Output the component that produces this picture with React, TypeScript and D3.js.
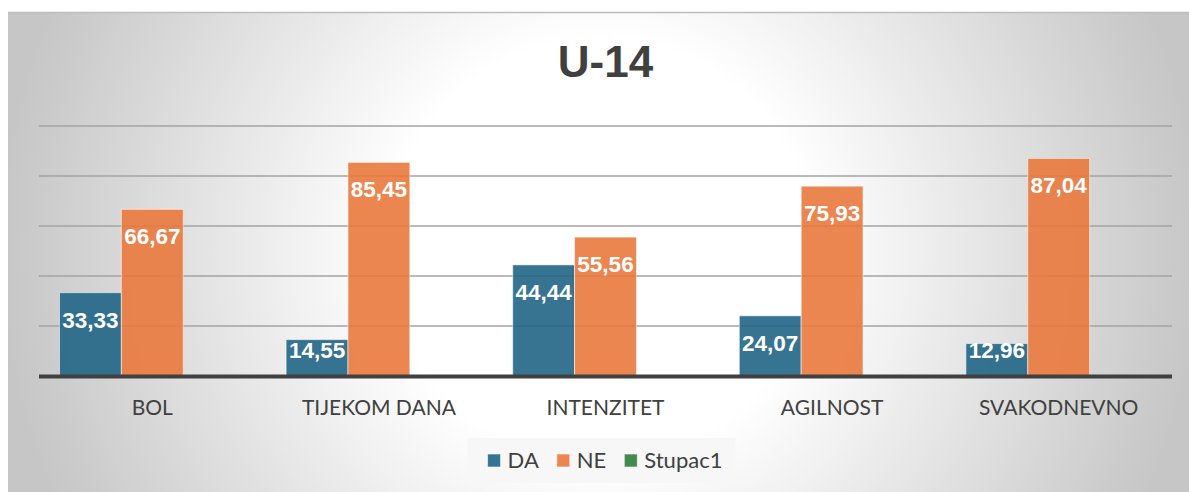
import React, { useEffect, useRef } from 'react';
import * as d3 from 'd3';

const categories = ['BOL', 'TIJEKOM DANA', 'INTENZITET', 'AGILNOST', 'SVAKODNEVNO'];
const seriesNames = ['DA', 'NE', 'Stupac1'];
const daValues = [33.33, 14.55, 44.44, 24.07, 12.96];
const neValues = [66.67, 85.45, 55.56, 75.93, 87.04];
const stupacValues: (number | null)[] = [null, null, null, null, null];
const yTicks = [20, 40, 60, 80, 100];

const colors: Record<string, string> = { DA: '#206586', NE: '#e9793e', Stupac1: '#2f7d3b' };

const fmt = (v: number) => v.toFixed(2).replace('.', ',');

const App: React.FC = () => {
  const svgRef = useRef<SVGSVGElement>(null);

  useEffect(() => {
    if (!svgRef.current) return;
    const svg = d3.select(svgRef.current);
    svg.selectAll('*').remove();

    const width = 1189;
    const height = 492;

    // Background gradient
    const defs = svg.append('defs');
    const grad = defs
      .append('radialGradient')
      .attr('id', 'bg-grad')
      .attr('gradientUnits', 'userSpaceOnUse')
      .attr('cx', 600)
      .attr('cy', 250)
      .attr('r', 600);
    grad.append('stop').attr('offset', '0%').attr('stop-color', '#ffffff');
    grad.append('stop').attr('offset', '35%').attr('stop-color', '#ffffff');
    grad.append('stop').attr('offset', '100%').attr('stop-color', '#c6c6c6');

    svg.append('rect').attr('x', 8).attr('y', 12).attr('width', width).attr('height', height).attr('fill', 'url(#bg-grad)');
    svg.append('line').attr('x1', 8).attr('x2', width).attr('y1', 12.5).attr('y2', 12.5).attr('stroke', '#bdbdbd').attr('stroke-width', 1.5);

    // Title
    svg
      .append('text')
      .attr('x', 605.5)
      .attr('y', 77)
      .attr('text-anchor', 'middle')
      .attr('font-family', '"Liberation Sans", Arial, sans-serif')
      .attr('font-weight', 'bold')
      .attr('font-size', 44)
      .attr('fill', '#404040')
      .text('U-14');

    const plotLeft = 39;
    const plotRight = 1172;
    const plotTop = 126;
    const plotBottom = 376;

    const x = d3.scaleBand<string>().domain(categories).range([plotLeft, plotRight]).padding(0);
    const xSub = d3
      .scaleBand<string>()
      .domain(seriesNames)
      .range([20.5, x.bandwidth() - 20.5])
      .padding(0);
    const y = d3.scaleLinear().domain([0, 100]).range([plotBottom, plotTop]);

    // Gridlines
    svg
      .append('g')
      .selectAll('line')
      .data(yTicks)
      .enter()
      .append('line')
      .attr('x1', plotLeft)
      .attr('x2', plotRight)
      .attr('y1', (d) => y(d))
      .attr('y2', (d) => y(d))
      .attr('stroke', '#a3a3a3')
      .attr('stroke-width', 1.5);

    const table = seriesNames.map((name, si) => ({
      name,
      values: [daValues, neValues, stupacValues][si],
    }));

    // Bars
    const barG = svg.append('g');
    table.forEach((s) => {
      s.values.forEach((v, i) => {
        if (v == null) return;
        const bx = (x(categories[i]) as number) + (xSub(s.name) as number);
        barG
          .append('rect')
          .attr('x', bx)
          .attr('y', y(v))
          .attr('width', xSub.bandwidth())
          .attr('height', y(0) - y(v))
          .attr('fill', colors[s.name])
          .attr('fill-opacity', 0.9)
          .attr('stroke', 'rgba(255,255,255,0.55)')
          .attr('stroke-width', 1);
      });
    });

    // Baseline axis
    svg
      .append('line')
      .attr('x1', plotLeft)
      .attr('x2', plotRight)
      .attr('y1', y(0) + 0.5)
      .attr('y2', y(0) + 0.5)
      .attr('stroke', '#404040')
      .attr('stroke-width', 4);

    // Data labels
    const labelG = svg.append('g');
    table.forEach((s) => {
      s.values.forEach((v, i) => {
        if (v == null) return;
        const cx = (x(categories[i]) as number) + (xSub(s.name) as number) + xSub.bandwidth() / 2;
        labelG
          .append('text')
          .attr('x', cx)
          .attr('y', Math.min(y(v) + 35, y(0) - 18))
          .attr('text-anchor', 'middle')
          .attr('font-family', '"Liberation Sans", Arial, sans-serif')
          .attr('font-weight', 'bold')
          .attr('font-size', 22.5)
          .attr('fill', '#ffffff')
          .text(fmt(v));
      });
    });

    // Category labels
    svg
      .append('g')
      .selectAll('text')
      .data(categories)
      .enter()
      .append('text')
      .attr('x', (d) => (x(d) as number) + x.bandwidth() / 2)
      .attr('y', 415)
      .attr('text-anchor', 'middle')
      .attr('font-family', 'Lato, sans-serif')
      .attr('font-size', 21)
      .attr('fill', '#404040')
      .text((d) => d);

    // Legend
    const legend = svg.append('g');
    const legendBox = legend.append('rect').attr('fill', '#f6f6f6').attr('fill-opacity', 0.9);
    const items = legend.append('g');
    let cursor = 0;
    seriesNames.forEach((name, i) => {
      const it = items.append('g').attr('transform', `translate(${cursor},0)`);
      it.append('rect')
        .attr('x', 0)
        .attr('y', 454)
        .attr('width', 13)
        .attr('height', 13)
        .attr('fill', colors[name])
        .attr('fill-opacity', 0.9)
        .attr('stroke', 'rgba(255,255,255,0.6)')
        .attr('stroke-width', 1);
      const t = it
        .append('text')
        .attr('x', 20)
        .attr('y', 468)
        .attr('font-family', 'Lato, sans-serif')
        .attr('font-size', 22)
        .attr('fill', '#404040')
        .text(name);
      const tw = (t.node() as SVGTextElement).getComputedTextLength();
      cursor += 20 + tw + (i < seriesNames.length - 1 ? 18 : 0);
    });
    const startX = 605 - cursor / 2;
    items.attr('transform', `translate(${startX},0)`);
    legendBox
      .attr('x', startX - 20)
      .attr('y', 438)
      .attr('width', cursor + 33)
      .attr('height', 45);
  }, []);

  return (
    <svg
      ref={svgRef}
      width={1189}
      height={492}
      style={{ position: 'absolute', left: 0, top: 0, display: 'block' }}
    />
  );
};

export default App;
